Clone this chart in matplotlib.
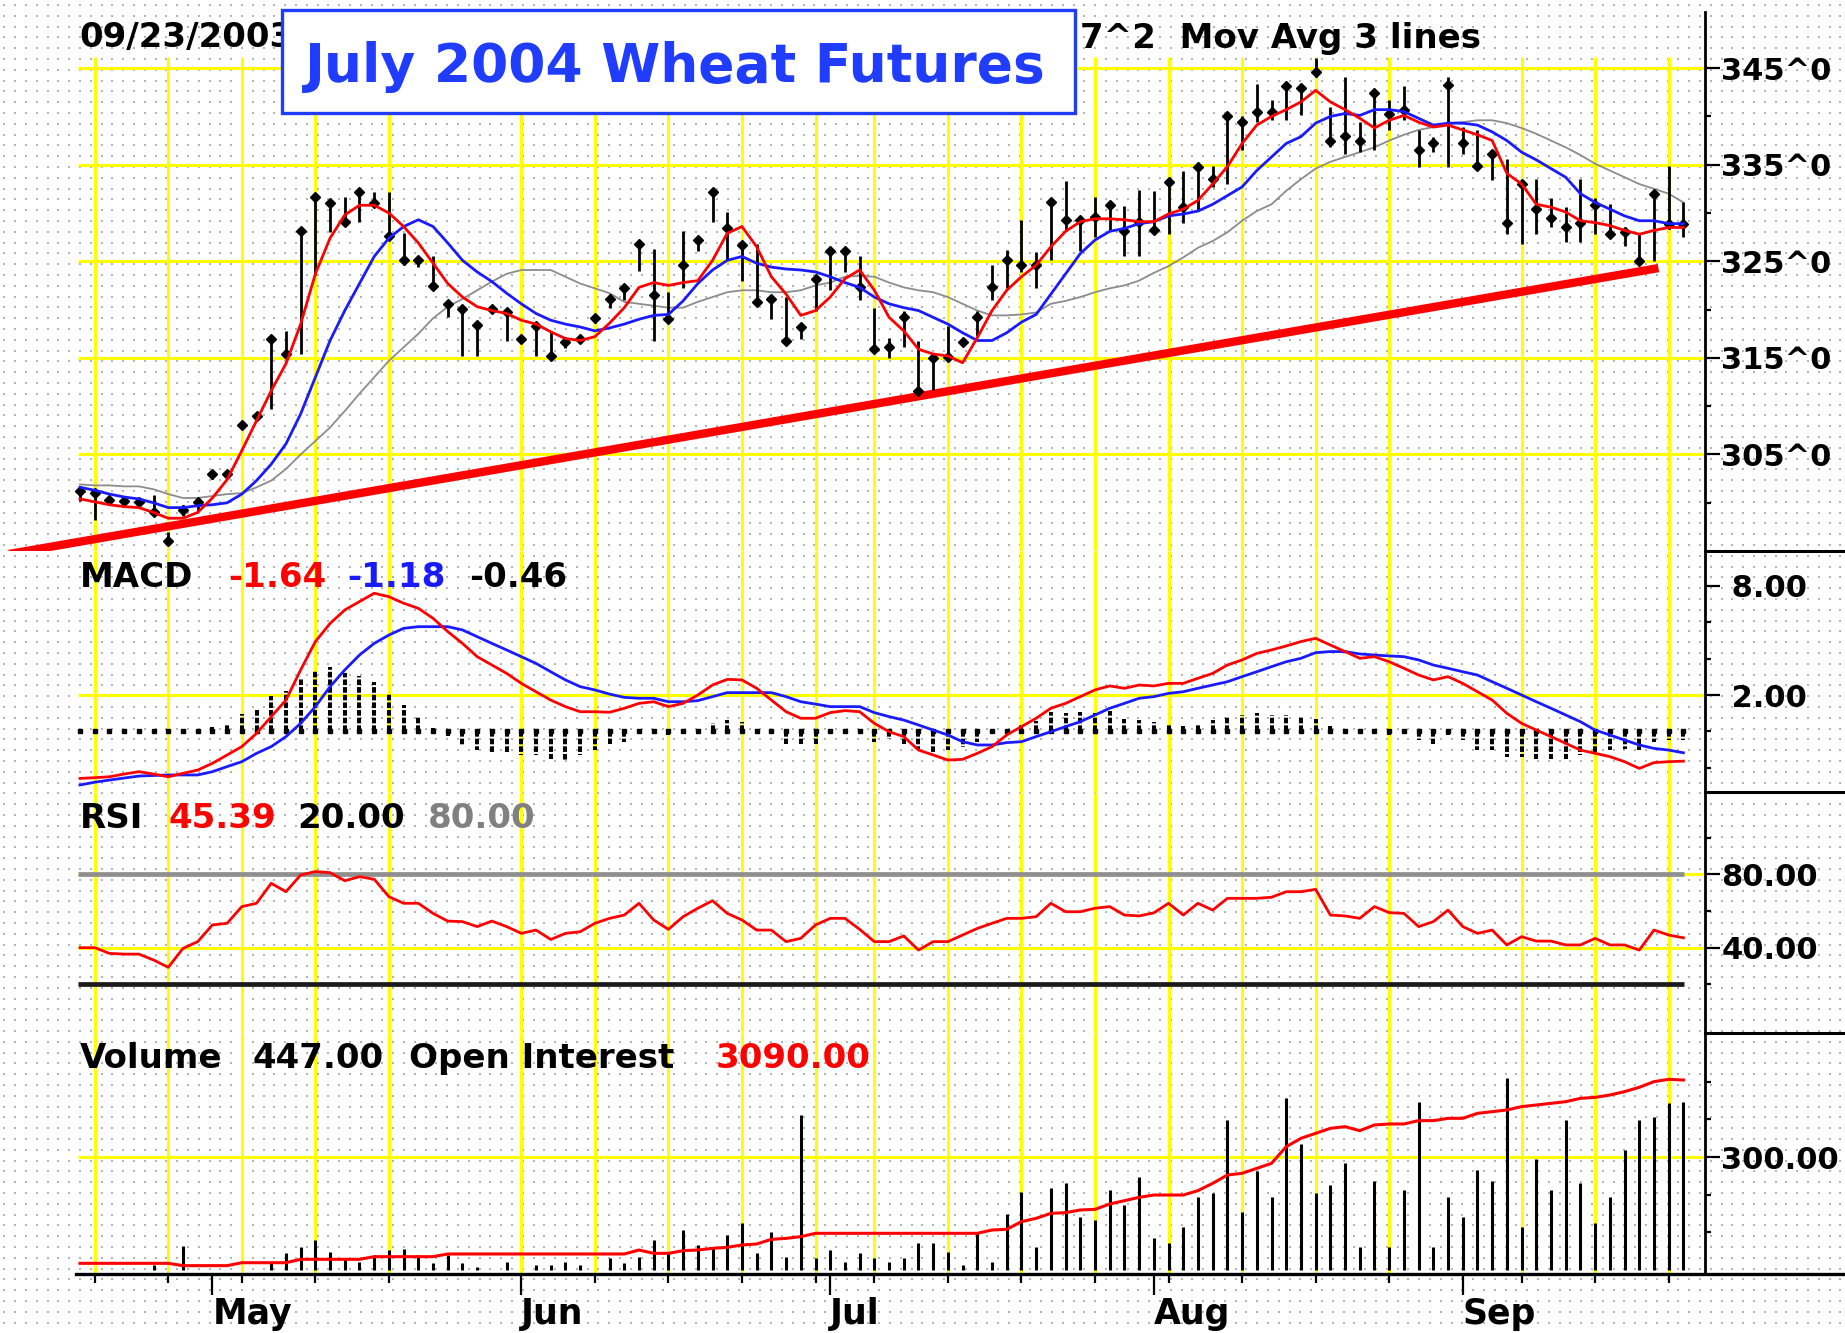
import numpy as np
import matplotlib
matplotlib.use("Agg")
import matplotlib.pyplot as plt
from matplotlib.lines import Line2D
from matplotlib.patches import Rectangle

plt.rcParams['font.family'] = ['DejaVu Sans']
plt.rcParams['font.weight'] = 'bold'

W, H, DPI = 1845, 1333, 100

# ---------------- data (trading-day index 0 = 17 Apr 2003 ... 109 = 23 Sep 2003) -------------
days = np.arange(110)

high = [301.7, 301.3, 300.7, 300.6, 300.5, 300.8, 297.0, 299.8, 300.5, 303.2,
        303.3, 308.4, 309.3, 317.0, 317.8, 328.1, 332.0, 331.4, 331.7, 332.5,
        332.2, 332.2, 327.9, 325.5, 325.5, 320.8, 320.4, 318.5, 320.3, 319.8,
        317.3, 318.5, 317.8, 317.0, 317.4, 319.5, 321.6, 322.4, 327.0, 326.3,
        321.8, 328.1, 327.4, 332.4, 330.1, 327.0, 326.8, 321.3, 321.3, 318.3,
        323.4, 326.3, 326.3, 325.5, 320.2, 317.1, 319.9, 316.8, 315.2, 318.3,
        317.0, 319.9, 324.6, 326.2, 329.3, 326.0, 331.2, 333.3, 329.4, 331.7,
        331.0, 330.7, 332.4, 332.3, 333.4, 334.4, 334.9, 334.9, 340.1, 340.0,
        343.4, 341.7, 343.4, 343.1, 346.0, 341.0, 344.1, 339.4, 342.4, 341.7,
        343.1, 338.6, 337.9, 344.1, 338.9, 338.6, 336.5, 335.6, 333.2, 333.5,
        331.6, 330.6, 333.5, 331.6, 330.9, 328.5, 327.8, 332.2, 334.9, 331.1]
low = [300.2, 298.2, 300.0, 300.0, 299.8, 298.9, 295.6, 298.6, 299.2, 302.5,
       302.6, 307.8, 308.6, 309.7, 315.4, 315.4, 323.6, 328.0, 329.1, 329.1,
       331.0, 327.4, 324.6, 324.4, 322.2, 319.2, 315.2, 315.2, 319.9, 316.8,
       316.6, 315.2, 315.0, 316.0, 316.5, 318.6, 320.2, 321.0, 324.0, 316.8,
       318.9, 322.2, 326.1, 329.1, 325.1, 323.0, 320.8, 319.0, 316.8, 317.0,
       319.9, 322.0, 323.9, 321.0, 315.9, 315.0, 316.1, 311.6, 311.7, 314.9,
       316.2, 317.3, 321.0, 322.2, 323.9, 322.2, 325.1, 328.1, 326.1, 327.5,
       328.1, 325.5, 325.5, 327.8, 327.8, 329.0, 330.2, 332.7, 333.0, 336.5,
       339.4, 339.6, 339.6, 340.1, 344.1, 336.8, 336.1, 336.3, 336.5, 338.6,
       339.6, 334.8, 336.3, 334.8, 336.1, 334.9, 333.4, 327.8, 326.8, 327.8,
       328.5, 327.0, 327.0, 327.8, 327.5, 326.6, 324.7, 325.0, 328.3, 327.5]
close = [301.2, 301.0, 300.3, 300.2, 300.1, 299.0, 296.0, 299.3, 300.1, 303.0,
         303.0, 308.1, 309.0, 317.0, 315.4, 328.1, 331.7, 331.0, 329.1, 332.2,
         331.0, 327.6, 325.1, 325.1, 322.4, 320.6, 320.1, 318.4, 320.1, 319.8,
         317.0, 318.3, 315.2, 316.6, 317.0, 319.1, 321.1, 322.2, 326.8, 321.5,
         319.0, 324.6, 327.2, 332.2, 328.4, 326.7, 320.8, 321.1, 316.8, 318.2,
         323.2, 326.1, 326.1, 322.3, 315.9, 316.1, 319.2, 311.6, 315.0, 315.1,
         316.6, 319.2, 322.3, 325.1, 324.6, 324.6, 331.1, 329.3, 329.3, 329.6,
         330.8, 328.1, 329.1, 328.2, 333.2, 330.6, 334.8, 333.5, 340.0, 339.4,
         340.5, 340.5, 343.1, 342.9, 344.6, 337.5, 338.0, 337.5, 342.4, 340.3,
         340.7, 336.5, 337.2, 343.3, 337.2, 334.9, 336.1, 329.0, 333.0, 330.4,
         329.5, 328.5, 329.0, 330.8, 327.8, 328.0, 325.0, 332.0, 328.9, 328.9]

ma_fast = [300.4, 300.1, 299.8, 299.6, 299.5, 299.0, 298.4, 298.4, 299.0, 300.5,
           302.4, 305.4, 308.5, 311.6, 314.4, 318.5, 323.7, 327.4, 329.8, 330.8,
           330.8, 330.0, 328.6, 326.9, 324.8, 322.7, 321.3, 320.3, 319.9, 319.6,
           318.9, 318.5, 317.7, 317.0, 316.8, 317.2, 318.6, 320.2, 322.3, 322.8,
           322.5, 322.8, 323.0, 325.1, 327.9, 328.6, 326.5, 323.4, 321.6, 319.4,
           319.9, 321.3, 323.2, 324.1, 322.0, 319.2, 317.8, 315.9, 315.4, 315.2,
           314.5, 317.1, 319.9, 322.0, 323.4, 324.6, 326.5, 328.1, 329.1, 329.4,
           329.4, 329.3, 329.1, 329.1, 329.9, 330.4, 331.3, 333.0, 334.8, 337.2,
           339.1, 340.0, 340.7, 341.5, 342.7, 341.5, 340.7, 339.8, 338.8, 339.6,
           340.1, 339.4, 338.9, 339.1, 338.6, 338.1, 337.5, 334.1, 333.0, 330.9,
           330.6, 330.1, 329.2, 329.0, 328.7, 328.2, 327.8, 328.2, 328.5, 328.5]
ma_mid = [301.6, 301.3, 300.9, 300.6, 300.4, 300.0, 299.5, 299.5, 299.7, 299.8,
          300.0, 300.9, 302.3, 304.0, 306.1, 309.2, 313.0, 316.8, 319.9, 322.7,
          325.5, 327.4, 328.6, 329.3, 328.6, 326.9, 325.1, 323.9, 322.9, 321.7,
          320.6, 319.6, 318.9, 318.5, 318.2, 317.8, 318.1, 318.5, 319.0, 319.4,
          319.5, 320.9, 322.7, 324.1, 325.1, 325.5, 324.8, 324.4, 324.2, 324.1,
          323.9, 323.4, 322.8, 322.3, 321.3, 320.6, 320.2, 319.9, 319.2, 318.5,
          317.6, 316.8, 316.8, 317.6, 318.7, 319.5, 321.6, 323.7, 325.8, 327.2,
          328.1, 328.4, 328.9, 329.1, 329.7, 329.9, 330.2, 330.9, 331.8, 332.7,
          334.4, 335.8, 337.2, 337.9, 339.3, 340.0, 340.3, 340.1, 340.7, 340.7,
          340.5, 339.8, 339.1, 339.3, 339.3, 339.1, 338.4, 337.5, 336.3, 335.5,
          334.6, 333.7, 332.0, 331.1, 330.4, 329.7, 329.2, 329.2, 328.9, 328.9]
ma_slow = [301.9, 301.8, 301.8, 301.7, 301.7, 301.4, 300.9, 300.5, 300.5, 300.7,
           300.9, 301.0, 301.6, 302.3, 303.5, 305.0, 306.4, 307.8, 309.5, 311.3,
           313.0, 314.7, 316.1, 317.5, 319.1, 320.3, 321.1, 322.0, 322.9, 323.7,
           324.1, 324.1, 324.1, 323.4, 322.7, 322.2, 321.7, 320.8, 320.6, 320.4,
           320.2, 320.2, 320.8, 321.3, 321.8, 322.0, 322.0, 321.8, 321.8, 322.0,
           322.5, 322.8, 323.4, 323.5, 323.4, 322.8, 322.3, 322.0, 321.8, 321.3,
           320.6, 319.9, 319.4, 319.4, 319.5, 319.7, 320.6, 320.9, 321.3, 321.8,
           322.2, 322.5, 323.0, 323.8, 324.5, 325.4, 326.4, 327.1, 328.0, 329.2,
           330.2, 330.9, 332.3, 333.5, 334.6, 335.3, 335.8, 336.3, 336.8, 337.5,
           338.1, 338.6, 338.9, 339.3, 339.4, 339.6, 339.6, 339.3, 338.8, 338.2,
           337.5, 336.8, 336.0, 335.1, 334.4, 333.7, 333.0, 332.5, 332.0, 331.1]

trend_x = [-4.83, 107.3]
trend_y = [294.7, 324.3]

macd_line = [-2.59, -2.55, -2.50, -2.35, -2.22, -2.35, -2.50, -2.31, -2.13, -1.76,
             -1.30, -0.84, -0.11, 0.81, 1.72, 3.38, 4.94, 5.94, 6.68, 7.14,
             7.60, 7.41, 7.05, 6.77, 6.22, 5.49, 4.84, 4.11, 3.65, 3.19,
             2.64, 2.18, 1.72, 1.36, 1.08, 1.08, 1.05, 1.27, 1.54, 1.63,
             1.36, 1.54, 2.00, 2.55, 2.86, 2.83, 2.37, 1.72, 1.08, 0.72,
             0.72, 1.03, 1.14, 1.08, 0.44, -0.02, -0.29, -1.03, -1.30, -1.58,
             -1.54, -1.21, -0.84, -0.20, 0.26, 0.72, 1.27, 1.54, 1.91, 2.28,
             2.50, 2.37, 2.55, 2.50, 2.64, 2.64, 2.92, 3.19, 3.65, 3.93,
             4.29, 4.48, 4.70, 4.94, 5.12, 4.75, 4.39, 4.02, 4.11, 3.83,
             3.47, 3.10, 2.83, 3.01, 2.64, 2.18, 1.72, 0.99, 0.44, 0.07,
             -0.29, -0.66, -1.03, -1.21, -1.39, -1.67, -2.04, -1.72, -1.67, -1.64]
macd_signal = [-2.95, -2.80, -2.68, -2.57, -2.46, -2.43, -2.40, -2.40, -2.40, -2.22,
               -1.94, -1.67, -1.21, -0.84, -0.29, 0.44, 1.36, 2.46, 3.38, 4.20,
               4.84, 5.30, 5.67, 5.76, 5.76, 5.76, 5.58, 5.21, 4.84, 4.48,
               4.11, 3.74, 3.28, 2.83, 2.46, 2.28, 2.05, 1.87, 1.82, 1.82,
               1.63, 1.63, 1.69, 1.91, 2.13, 2.13, 2.13, 2.13, 1.91, 1.63,
               1.50, 1.36, 1.36, 1.36, 1.03, 0.81, 0.62, 0.35, 0.07, -0.20,
               -0.57, -0.75, -0.75, -0.62, -0.57, -0.29, -0.02, 0.26, 0.53, 0.90,
               1.27, 1.54, 1.82, 1.91, 2.09, 2.18, 2.37, 2.55, 2.73, 3.01,
               3.28, 3.56, 3.83, 4.02, 4.33, 4.39, 4.39, 4.26, 4.20, 4.15,
               4.11, 3.93, 3.65, 3.47, 3.28, 3.10, 2.73, 2.37, 2.00, 1.63,
               1.27, 0.90, 0.53, 0.07, -0.20, -0.48, -0.75, -0.94, -1.03, -1.18]
macd_hist = [0.05, 0.10, 0.10, 0.10, 0.10, 0.05, 0.00, 0.05, 0.15, 0.25,
             0.42, 0.95, 1.30, 1.95, 2.20, 2.95, 3.40, 3.55, 3.20, 3.05,
             2.70, 2.10, 1.45, 0.80, 0.20, -0.25, -0.80, -1.05, -1.15, -1.15,
             -1.30, -1.30, -1.50, -1.60, -1.30, -1.05, -0.70, -0.60, -0.10, -0.05,
             -0.20, 0.00, 0.05, 0.45, 0.60, 0.50, 0.00, -0.10, -0.70, -0.70,
             -0.70, -0.05, 0.00, -0.10, -0.60, -0.40, -0.70, -1.00, -1.15, -1.05,
             -0.85, -0.60, -0.10, 0.05, 0.35, 0.55, 1.05, 1.00, 1.05, 1.00,
             1.10, 0.70, 0.60, 0.50, 0.40, 0.30, 0.40, 0.60, 0.80, 0.90,
             1.00, 0.90, 0.90, 0.80, 0.70, 0.30, 0.00, -0.05, -0.05, -0.20,
             0.00, -0.50, -0.70, -0.20, -0.50, -1.00, -1.00, -1.40, -1.40, -1.50,
             -1.50, -1.50, -1.30, -1.15, -1.05, -0.95, -1.05, -0.60, -0.50, -0.46]

rsi = [40.0, 40.0, 36.9, 36.5, 36.5, 33.3, 29.3, 39.6, 43.3, 52.4,
       53.3, 62.4, 64.2, 75.1, 70.5, 79.6, 81.5, 80.9, 76.5, 78.7,
       77.3, 67.8, 64.2, 64.2, 58.7, 54.5, 54.2, 51.5, 54.5, 51.5,
       47.8, 49.6, 44.5, 47.8, 48.7, 53.3, 56.0, 57.8, 64.2, 55.1,
       50.0, 56.9, 61.5, 65.6, 58.7, 55.1, 49.6, 49.6, 43.3, 45.1,
       52.4, 56.0, 56.0, 50.0, 43.3, 43.3, 46.4, 38.7, 43.3, 43.3,
       46.9, 50.5, 53.3, 56.0, 56.0, 56.9, 64.2, 59.6, 59.6, 61.5,
       62.4, 57.8, 57.3, 59.0, 64.2, 57.8, 64.2, 60.5, 66.9, 66.9,
       66.9, 67.5, 70.5, 70.5, 71.8, 57.8, 57.3, 56.0, 62.4, 59.1,
       58.7, 51.5, 54.2, 60.5, 51.5, 47.8, 49.6, 41.5, 46.0, 43.6,
       43.6, 41.5, 41.5, 45.1, 41.5, 41.5, 38.7, 49.6, 46.9, 45.39]
rsi_low, rsi_high = 20.0, 80.0

volume = [0, 0, 0, 0, 0, 13, 0, 64, 0, 0,
          0, 0, 0, 18, 44, 62, 80, 49, 31, 22,
          40, 53, 55, 40, 18, 40, 18, 9, 0, 22,
          0, 13, 13, 22, 13, 0, 31, 18, 35, 80,
          49, 106, 66, 62, 93, 124, 44, 102, 35, 412,
          31, 53, 22, 44, 31, 22, 31, 71, 71, 49,
          13, 102, 22, 150, 208, 62, 217, 232, 142, 133,
          212, 173, 248, 84, 71, 115, 195, 204, 398, 155,
          264, 195, 456, 335, 204, 226, 283, 62, 235, 62,
          212, 447, 62, 195, 142, 266, 235, 509, 115, 296,
          212, 398, 230, 124, 195, 319, 398, 407, 443, 447]
open_interest = [170, 170, 170, 170, 170, 170, 170, 133, 133, 133,
                 133, 180, 180, 180, 180, 234, 234, 234, 234, 234,
                 276, 276, 276, 276, 276, 319, 319, 319, 319, 319,
                 319, 319, 319, 319, 319, 319, 319, 319, 382, 329,
                 329, 372, 382, 409, 425, 462, 478, 552, 568, 595,
                 648, 648, 648, 648, 648, 648, 648, 648, 648, 648,
                 648, 648, 701, 712, 834, 887, 966, 977, 1020, 1030,
                 1115, 1168, 1221, 1258, 1258, 1258, 1328, 1444, 1577, 1604,
                 1683, 1763, 2028, 2161, 2241, 2320, 2347, 2283, 2374, 2390,
                 2390, 2443, 2443, 2480, 2480, 2559, 2586, 2613, 2666, 2692,
                 2719, 2745, 2798, 2814, 2851, 2905, 2974, 3064, 3101, 3090]

week_idx = [1, 6, 11, 16, 21, 30, 35, 40, 45, 50, 54, 59, 64, 69, 74, 79, 84, 89, 98, 103, 108]
month_idx = [9, 30, 51, 73, 94]
month_labels = ['May', 'Jun', 'Jul', 'Aug', 'Sep']

price_ticks = [305, 315, 325, 335, 345]
price_labels = ['305^0', '315^0', '325^0', '335^0', '345^0']
price_minor = [300, 310, 320, 330, 340]
macd_ticks = [2, 8]
macd_labels = [' 2.00', ' 8.00']
macd_minor = [-2, 0, 4, 6]
rsi_ticks = [40, 80]
rsi_labels = ['40.00', '80.00']
rsi_minor = [20, 60, 100]
vol_ticks = [300]
vol_labels = ['300.00']
vol_minor = [100, 200, 400, 500]

# ---------------- layout helpers (pixel based) -------------
X0_PX, DX_PX, AXIS_PX = 80.0, 14.71, 1705.0
XMIN = (0 - X0_PX) / DX_PX
XMAX = (AXIS_PX - X0_PX) / DX_PX
GRID_X0 = (78 - X0_PX) / DX_PX
DATA_END = (1684 - X0_PX) / DX_PX

YELLOW = '#ffff00'
RED = '#ff0000'
BLUE = '#1a1aff'
TITLE_BLUE = '#1f3cff'
AXLAB = 22


def fx(x):
    return x / W


def fy(y):
    return 1 - y / H


def rect(top, bottom):
    return [0, 1 - bottom / H, AXIS_PX / W, (bottom - top) / H]


fig = plt.figure(figsize=(W / DPI, H / DPI), dpi=DPI, facecolor='white')

# background dotted texture
bg = fig.add_axes([0, 0, 1, 1], zorder=-10)
bg.set_xlim(0, W)
bg.set_ylim(H, 0)
gx, gy = np.meshgrid(np.arange(4.4, W, 10.8), np.arange(5.0, H, 10.8))
bg.scatter(gx.ravel(), gy.ravel(), s=1.6, marker='s', c='#b4b4b4', linewidths=0)
bg.axis('off')


def style_panel(ax, ylim, major, labels, minor):
    ax.set_xlim(XMIN, XMAX)
    ax.set_ylim(*ylim)
    ax.set_facecolor('none')
    for s in ['top', 'left', 'bottom']:
        ax.spines[s].set_visible(False)
    ax.spines['right'].set_linewidth(2.0)
    ax.yaxis.tick_right()
    ax.set_yticks(major, labels)
    ax.set_yticks(minor, minor=True)
    ax.tick_params(axis='y', which='major', length=10.8, width=1.6, pad=1.0,
                   labelsize=AXLAB, direction='out')
    ax.tick_params(axis='y', which='minor', length=4.0, width=1.6, direction='out')
    ax.tick_params(axis='x', which='both', bottom=False, labelbottom=False)
    for t in ax.get_yticklabels():
        t.set_fontweight('bold')


# ---------------- price panel -------------
PRICE_TOP_GRID = 346.15
axp = fig.add_axes(rect(11.5, 551))
style_panel(axp, (295.01, 350.86), price_ticks, price_labels, price_minor)
axp.hlines(price_ticks, GRID_X0, XMAX, colors=YELLOW, lw=2.2, zorder=1)
axp.vlines(week_idx, 295.01, PRICE_TOP_GRID, colors=YELLOW, lw=2.2, zorder=1)
axp.plot(days, ma_slow, color='#8c8c8c', lw=1.3, zorder=2)
axp.plot(trend_x, trend_y, color=RED, lw=6.0, solid_capstyle='butt', zorder=2.5)
axp.vlines(days, low, high, colors='black', lw=2.0, zorder=3)
axp.plot(days, close, linestyle='none', marker='D', ms=5.5, color='black', zorder=3)
axp.plot(days, ma_mid, color=BLUE, lw=2.0, zorder=4)
axp.plot(days, ma_fast, color=RED, lw=2.0, zorder=4)

# ---------------- MACD panel -------------
axm = fig.add_axes(rect(551, 792))
style_panel(axm, (-3.338, 9.925), macd_ticks, macd_labels, macd_minor)
axm.hlines([2], GRID_X0, XMAX, colors=YELLOW, lw=2.2, zorder=1)
axm.vlines(week_idx, -3.338, 9.925, colors=YELLOW, lw=2.2, zorder=1)
axm.vlines(days, 0, macd_hist, colors='black', lw=2.9, linestyles=(0, (1.4, 0.5)), zorder=2)
axm.plot(days, np.zeros(len(days)), linestyle='none', marker='s', ms=2.4, color='black', zorder=2)
axm.plot(days, macd_signal, color=BLUE, lw=2.0, zorder=3)
axm.plot(days, macd_line, color=RED, lw=2.0, zorder=3)

# ---------------- RSI panel -------------
axr = fig.add_axes(rect(792, 1033))
style_panel(axr, (-6.49, 124.85), rsi_ticks, rsi_labels, rsi_minor)
axr.hlines([80, 40], GRID_X0, XMAX, colors=YELLOW, lw=2.2, zorder=1)
axr.vlines(week_idx, -6.49, 124.85, colors=YELLOW, lw=2.2, zorder=1)
axr.hlines([rsi_high], GRID_X0, DATA_END, colors='#8f8f8f', lw=3.4, zorder=2)
axr.hlines([rsi_low], GRID_X0, DATA_END, colors='#1a1a1a', lw=3.4, zorder=2)
axr.plot(days, rsi, color=RED, lw=2.0, zorder=3)

# ---------------- Volume / OI panel -------------
axv = fig.add_axes(rect(1033, 1274))
style_panel(axv, (-10.6, 629.2), vol_ticks, vol_labels, vol_minor)
axv.hlines([300], GRID_X0, XMAX, colors=YELLOW, lw=2.2, zorder=1)
axv.vlines(week_idx, -10.6, 629.2, colors=YELLOW, lw=2.2, zorder=1)
axv.vlines(days, 0, volume, colors='black', lw=2.2, zorder=2)
axv.set_xticks(month_idx, month_labels)
axv.set_xticks(week_idx, minor=True)
axv.tick_params(axis='x', which='major', bottom=True, labelbottom=True, length=15,
                width=1.6, pad=1.5, labelsize=25, direction='out')
axv.tick_params(axis='x', which='minor', bottom=True, length=6.5, width=1.6, direction='out')
for t in axv.get_xticklabels():
    t.set_ha('left')
    t.set_fontweight('bold')

axo = fig.add_axes(rect(1033, 1274), sharex=axv)
axo.set_ylim(0, 3839)
axo.set_facecolor('none')
axo.axis('off')
axo.plot(days, open_interest, color=RED, lw=2.2, zorder=3)

# ---------------- frame lines -------------
fig.add_artist(Line2D([fx(76), fx(W)], [fy(1274), fy(1274)], color='black', lw=2.4))
for ysep in (551, 792, 1033):
    fig.add_artist(Line2D([fx(AXIS_PX), fx(W)], [fy(ysep), fy(ysep)], color='black', lw=2.2))

# ---------------- texts -------------
TXT = 24.5
fig.text(fx(79), fy(47), '09/23/2003', fontsize=TXT, fontweight='bold', color='black', zorder=2)
fig.text(fx(1080), fy(48), '7^2  Mov Avg 3 lines', fontsize=TXT, fontweight='bold', color='black', zorder=2)

box = Rectangle((fx(282), fy(113)), (1075 - 282) / W, (113 - 10) / H, transform=fig.transFigure,
                facecolor='white', edgecolor=TITLE_BLUE, lw=2.4, zorder=5)
fig.add_artist(box)
fig.text(fx(305), fy(82), 'July 2004 Wheat Futures', fontsize=38.5, fontweight='bold',
         color=TITLE_BLUE, zorder=6)

row_macd = [('MACD', 80, 'black'), (f'{macd_line[-1]:.2f}', 228, RED),
            (f'{macd_signal[-1]:.2f}', 347, BLUE), (f'{macd_hist[-1]:.2f}', 469, 'black')]
for s, x, c in row_macd:
    fig.text(fx(x), fy(587), s, fontsize=TXT, fontweight='bold', color=c, zorder=4)

row_rsi = [('RSI', 80, 'black'), (f'{rsi[-1]:.2f}', 169, RED),
           (f'{rsi_low:.2f}', 297, 'black'), (f'{rsi_high:.2f}', 428, '#808080')]
for s, x, c in row_rsi:
    fig.text(fx(x), fy(828), s, fontsize=TXT, fontweight='bold', color=c, zorder=4)

row_vol = [('Volume', 80, 'black'), (f'{volume[-1]:.2f}', 253, 'black'),
           ('Open Interest', 409, 'black'), (f'{open_interest[-1]:.2f}', 716, RED)]
for s, x, c in row_vol:
    fig.text(fx(x), fy(1068), s, fontsize=TXT, fontweight='bold', color=c, zorder=4)

fig.savefig('out.png', dpi=DPI, facecolor='white')
